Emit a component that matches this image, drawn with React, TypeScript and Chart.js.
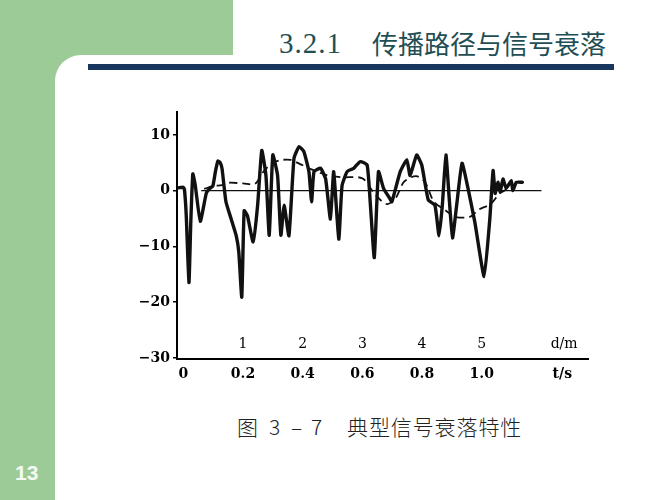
import React, { useEffect, useRef } from "react";
import { Chart, registerables } from "chart.js";

Chart.register(...registerables);

// measured signal (t in s, level in dB)
const signalT = [-0.017, 0.0, 0.004, 0.01, 0.019, 0.025, 0.032, 0.04, 0.057, 0.077, 0.087, 0.099, 0.108, 0.116, 0.124, 0.13, 0.143, 0.16, 0.177, 0.186, 0.196, 0.204, 0.215, 0.234, 0.249, 0.263, 0.277, 0.288, 0.3, 0.316, 0.327, 0.338, 0.354, 0.371, 0.388, 0.404, 0.421, 0.43, 0.438, 0.46, 0.477, 0.493, 0.504, 0.521, 0.532, 0.549, 0.571, 0.593, 0.616, 0.627, 0.64, 0.654, 0.671, 0.693, 0.699, 0.727, 0.749, 0.76, 0.782, 0.799, 0.821, 0.843, 0.857, 0.868, 0.88, 0.891, 0.902, 0.916, 0.934, 0.954, 0.977, 1.008, 1.027, 1.038, 1.045, 1.054, 1.062, 1.071, 1.082, 1.099, 1.104, 1.116, 1.136];
const signalV = [0.5, 0.6, 0.2, -4.5, -16.5, -6, 3, 1, -5.5, -0.5, 0.3, 0.8, 3.5, 5.3, 5.0, 3.9, -2, -5, -8, -11, -19.1, -3.6, -4.5, -9.2, -2.7, 7.2, 2.7, -8, 6.4, 2.7, -8, -2.6, -8.1, 5.8, 7.9, 7.0, 3.4, -2, 3.4, 4.0, 2.1, -5.1, 3.4, -8.7, 0.9, 3.4, 4.0, 5.2, 4.6, -2.6, -12, 3.4, 0.4, -1.5, -2, 3.4, 5.5, 2.7, 6.4, 4.6, -1.7, -2.6, -8.1, -2.6, 6.4, -1.4, -8.5, -2.6, 4.9, 0.4, -5.7, -15.4, -5.1, 3.6, -0.5, 1.5, -0.2, 2.1, 0.4, 1.8, 0, 1.5, 1.5];

// local mean (dashed)
const meanT = [0.07, 0.1, 0.13, 0.15, 0.2, 0.24, 0.27, 0.3, 0.33, 0.36, 0.39, 0.43, 0.48, 0.53, 0.6, 0.64, 0.68, 0.71, 0.74, 0.78, 0.81, 0.84, 0.88, 0.91, 0.96, 0.99, 1.03, 1.06, 1.09];
const meanV = [0.3, 0.8, 1.0, 1.4, 1.3, 1.2, 3.5, 5.0, 5.5, 5.5, 4.8, 3.8, 2.8, 2.4, 2.2, -0.5, -2.4, -1.5, 1.6, 2.6, 1.5, -2, -3.6, -4.7, -4.7, -3.4, -2.4, -0.5, 0.4];

// reference (median) level
const refT = [0.06, 1.2];
const refV = [0, 0];

const yTicks = [10, 0, -10, -20, -30];
const tTicks = [0, 0.2, 0.4, 0.6, 0.8, 1.0];
const tTickLabels = ["0", "0.2", "0.4", "0.6", "0.8", "1.0"];
const tUnitPos = 1.27;
const tUnitLabel = "t/s";
const dTicks = [1, 2, 3, 4, 5];
const dTickLabels = ["1", "2", "3", "4", "5"];
const dUnitPos = 6.38;
const dUnitLabel = "d/m";

const T_MIN = -0.021;
const T_MAX = 1.356;
const D_PER_T = 5;

const tickFont = { family: "'DejaVu Serif', 'Liberation Serif', serif", size: 14, weight: "bold" as const };

const GREEN = "#9ccb97";

export default function App() {
  const canvasRef = useRef<HTMLCanvasElement | null>(null);

  useEffect(() => {
    if (!canvasRef.current) return;
    const toPts = (xs: number[], ys: number[]) => xs.map((x, i) => ({ x, y: ys[i] }));
    const chart = new Chart(canvasRef.current, {
      type: "line",
      data: {
        datasets: [
          {
            label: "signal",
            data: toPts(signalT, signalV),
            borderColor: "#111",
            borderWidth: 3.4,
            pointRadius: 0,
            tension: 0.15,
            borderJoinStyle: "round",
            borderCapStyle: "round",
          },
          {
            label: "mean",
            data: toPts(meanT, meanV),
            borderColor: "#111",
            borderWidth: 1.8,
            borderDash: [8, 5],
            pointRadius: 0,
            tension: 0.3,
          },
          {
            label: "median",
            data: toPts(refT, refV),
            borderColor: "#111",
            borderWidth: 1.4,
            pointRadius: 0,
          },
        ],
      },
      options: {
        animation: false,
        responsive: true,
        maintainAspectRatio: false,
        layout: { padding: { left: 117, right: 79, top: 112, bottom: 111 } },
        plugins: { legend: { display: false }, tooltip: { enabled: false } },
        scales: {
          x: {
            type: "linear",
            position: "bottom",
            weight: 0,
            min: T_MIN,
            max: T_MAX,
            afterBuildTicks: (s: any) => {
              s.ticks = [...tTicks, tUnitPos].map((v) => ({ value: v }));
            },
            afterFit: (s: any) => {
              s.height = 30;
            },
            ticks: {
              autoSkip: false,
              maxRotation: 0,
              padding: 7,
              color: "#000",
              font: tickFont,
              callback: (v: any) => {
                const i = tTicks.indexOf(Number(v));
                return i >= 0 ? tTickLabels[i] : tUnitLabel;
              },
            },
            grid: { display: false, drawTicks: false },
            border: { display: true, color: "#000", width: 2 },
          },
          xd: {
            type: "linear",
            position: "bottom",
            weight: -1,
            min: T_MIN * D_PER_T,
            max: T_MAX * D_PER_T,
            afterBuildTicks: (s: any) => {
              s.ticks = [...dTicks, dUnitPos].map((v) => ({ value: v }));
            },
            afterFit: (s: any) => {
              s.height = 0;
            },
            ticks: {
              mirror: true,
              autoSkip: false,
              maxRotation: 0,
              padding: 6,
              color: "#000",
              font: { ...tickFont, weight: "normal" as const },
              callback: (v: any) => {
                const i = dTicks.indexOf(Number(v));
                return i >= 0 ? dTickLabels[i] : dUnitLabel;
              },
            },
            grid: { display: false, drawTicks: false },
            border: { display: false },
          },
          y: {
            type: "linear",
            min: -30.2,
            max: 14.1,
            afterBuildTicks: (s: any) => {
              s.ticks = yTicks.map((v) => ({ value: v }));
            },
            afterFit: (s: any) => {
              s.width = 60;
            },
            ticks: {
              autoSkip: false,
              padding: 3,
              color: "#000",
              font: tickFont,
              callback: (v: any) => (Number(v) < 0 ? "\u2212" + Math.abs(Number(v)) : String(v)),
            },
            grid: { display: true, drawOnChartArea: false, drawTicks: true, tickLength: 4, color: "#000", lineWidth: 1.5 },
            border: { display: true, color: "#000", width: 2 },
          },
        },
      },
    });
    return () => chart.destroy();
  }, []);

  const abs = (s: React.CSSProperties): React.CSSProperties => ({ position: "absolute", ...s });

  return (
    <div style={abs({ left: 0, top: 0, width: 667, height: 500, background: "#fff", overflow: "hidden" })}>
      <div style={abs({ left: 0, top: 0, width: 233, height: 90, background: GREEN })} />
      <div style={abs({ left: 0, top: 0, width: 55, height: 500, background: GREEN })} />
      <div style={abs({ left: 55, top: 55, width: 612, height: 445, background: "#fff", borderTopLeftRadius: 26 })} />
      <div
        style={abs({
          left: 279,
          top: 29,
          fontFamily: "'Liberation Serif', 'DejaVu Serif', serif",
          fontSize: 29,
          lineHeight: "29px",
          letterSpacing: 1,
          color: "#1f4f55",
          whiteSpace: "nowrap",
        })}
      >
        3.2.1
      </div>
      <div
        style={abs({
          left: 372,
          top: 30,
          fontFamily: "'Noto Sans CJK SC', sans-serif",
          fontSize: 26,
          lineHeight: "26px",
          color: "#1f4f55",
          whiteSpace: "nowrap",
        })}
      >
        传播路径与信号衰落
      </div>
      <div style={abs({ left: 88, top: 64, width: 526, height: 6, background: "#17375e" })} />
      <div
        style={abs({
          left: 15,
          top: 462,
          fontFamily: "'Liberation Sans', Arial, sans-serif",
          fontWeight: "bold",
          fontSize: 21,
          lineHeight: "21px",
          color: "#f4faf2",
        })}
      >
        13
      </div>
      <div
        style={abs({
          left: 237,
          top: 416,
          fontFamily: "'Noto Sans CJK SC', sans-serif",
          fontWeight: 300,
          fontSize: 21,
          lineHeight: "21px",
          color: "#222",
          whiteSpace: "nowrap",
        })}
      >
        <span style={{ display: "inline-block", width: 32 }}>图 </span>
        <span style={{ display: "inline-block", width: 22 }}>3 </span>
        <span style={{ display: "inline-block", width: 20 }}>– </span>
        <span style={{ display: "inline-block", width: 36 }}>7 </span>
        <span style={{ letterSpacing: 0.9 }}>典型信号衰落特性</span>
      </div>
      <div style={abs({ left: 0, top: 0, width: 667, height: 500 })}>
        <canvas ref={canvasRef} />
      </div>
    </div>
  );
}
